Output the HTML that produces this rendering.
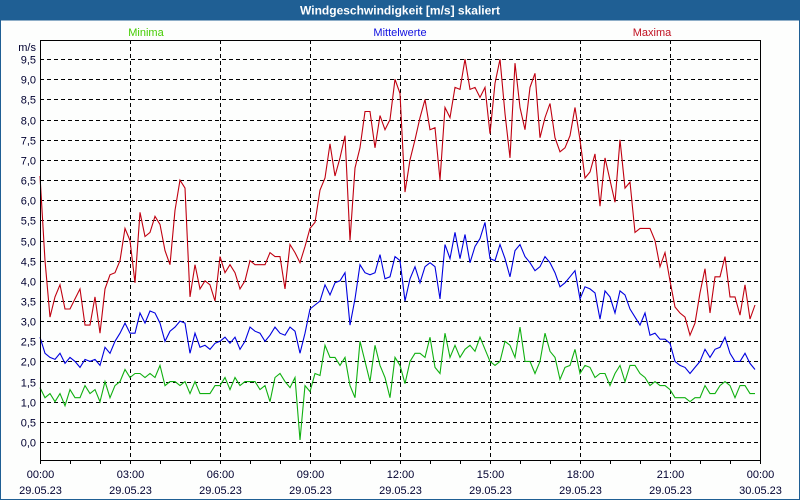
<!DOCTYPE html>
<html><head><meta charset="utf-8"><style>
html,body{margin:0;padding:0;width:800px;height:500px;overflow:hidden;background:#fff;font-family:"Liberation Sans",sans-serif}
svg{display:block}
</style></head><body>
<svg id="chart" width="800" height="500" xmlns="http://www.w3.org/2000/svg">
<rect x="0" y="0" width="800" height="500" fill="#fdfefd"/>
<rect x="0" y="0" width="800" height="20" fill="#1f5f94"/>
<rect x="0.5" y="20" width="799" height="479.5" fill="none" stroke="#1f5f94" stroke-width="1"/>
<text x="400" y="14.5" text-anchor="middle" font-size="12" font-weight="bold" fill="#fff">Windgeschwindigkeit [m/s] skaliert</text>
<text x="146" y="36" text-anchor="middle" font-size="11" fill="#44cc00">Minima</text>
<text x="400" y="36" text-anchor="middle" font-size="11" fill="#1010e0">Mittelwerte</text>
<text x="652" y="36" text-anchor="middle" font-size="11" fill="#c01020">Maxima</text>
<text x="36" y="51" text-anchor="end" font-size="11" fill="#000030">m/s</text>
<g id="grid"></g>
<g id="series"></g>
<rect x="40.5" y="40.5" width="720" height="420" fill="none" stroke="#000" stroke-width="1"/>
</svg>
<script>
const yTicks=[0,0.5,1,1.5,2,2.5,3,3.5,4,4.5,5,5.5,6,6.5,7,7.5,8,8.5,9,9.5];
const xTickHours=[0,3,6,9,12,15,18,21,24];
const xTimeLabels=["00:00","03:00","06:00","09:00","12:00","15:00","18:00","21:00","00:00"];
const xDateLabels=["29.05.23","29.05.23","29.05.23","29.05.23","29.05.23","29.05.23","29.05.23","29.05.23","30.05.23"];
const maxima=[6.6,4.5,3.1,3.6,3.9,3.3,3.3,3.55,3.8,2.9,2.9,3.6,2.7,3.8,4.15,4.2,4.5,5.3,5.0,3.95,5.7,5.1,5.2,5.6,5.4,4.75,4.4,5.75,6.5,6.3,3.6,4.4,3.8,4.0,3.9,3.5,4.6,4.2,4.4,4.2,3.8,4.0,4.5,4.4,4.4,4.4,4.7,4.6,4.6,3.8,
4.9,4.7,4.45,4.85,5.3,5.45,6.25,6.55,7.4,6.6,7.05,7.6,5.0,6.8,7.3,8.2,8.2,7.3,8.1,7.75,8.0,9.0,8.65,6.2,7.0,7.5,8.05,8.5,7.75,7.8,6.5,8.3,8.05,8.8,8.75,9.5,8.75,8.8,8.55,8.8,7.65,8.9,9.5,8.15,7.05,9.4,8.3,7.75,8.8,9.15,
7.55,8.05,8.4,7.55,7.2,7.3,7.6,8.3,7.5,6.55,6.7,7.15,5.85,7.05,6.5,5.95,7.5,6.3,6.45,5.2,5.3,5.3,5.3,5.0,4.35,4.7,4.0,3.35,3.2,3.1,2.65,2.95,3.7,4.3,3.2,4.1,4.1,4.6,3.6,3.6,3.15,3.9,3.05,3.4];
const mittel=[2.6,2.2,2.1,2.05,2.2,1.95,2.1,2.0,1.85,2.05,2.0,2.05,1.9,2.35,2.2,2.5,2.7,2.95,2.7,2.7,3.2,2.95,3.25,3.2,2.95,2.5,2.75,2.85,3.0,2.95,2.2,2.7,2.35,2.4,2.3,2.45,2.5,2.6,2.45,2.6,2.3,2.5,2.85,2.75,2.7,2.5,2.65,2.85,2.7,2.65,
2.85,2.75,2.2,2.7,3.3,3.4,3.5,3.9,3.65,3.95,4.0,4.2,2.9,3.55,4.4,4.2,4.15,4.2,4.65,4.05,4.1,4.6,4.5,3.5,4.05,4.35,3.95,4.35,4.45,4.35,3.55,4.9,4.55,5.2,4.55,5.15,4.45,4.85,5.05,5.45,4.55,4.5,4.9,4.55,4.1,4.75,4.9,4.6,4.45,4.25,
4.35,4.6,4.45,4.2,3.85,3.95,4.1,4.25,3.55,3.85,3.8,3.7,3.05,3.75,3.6,3.2,3.75,3.65,3.3,3.1,2.9,3.2,2.65,2.7,2.55,2.55,2.45,2.0,1.9,1.85,1.7,1.85,2.0,2.3,2.1,2.3,2.35,2.6,2.2,2.0,2.0,2.2,1.95,1.8];
const minima=[1.35,1.1,1.2,1.0,1.2,0.9,1.3,1.1,1.1,1.4,1.2,1.3,1.0,1.5,1.1,1.4,1.5,1.8,1.6,1.7,1.7,1.6,1.7,1.6,1.9,1.4,1.5,1.5,1.4,1.5,1.2,1.5,1.2,1.2,1.2,1.4,1.4,1.6,1.3,1.6,1.4,1.5,1.5,1.5,1.3,1.4,1.0,1.6,1.7,1.5,
1.35,1.6,0.05,1.4,1.25,1.7,1.65,2.4,2.1,2.1,1.9,2.1,1.4,1.1,2.5,2.0,1.5,2.4,1.9,1.6,1.1,2.1,1.9,1.45,2.0,2.2,2.2,2.1,2.6,1.85,1.7,2.7,2.1,2.4,2.1,2.3,2.4,2.25,2.6,2.3,2.0,1.9,2.0,2.5,2.4,2.1,2.85,2.0,2.0,1.7,
2.0,2.7,2.25,2.1,1.55,1.85,1.9,2.3,1.7,1.9,1.85,1.6,1.7,1.7,1.4,1.7,1.9,1.5,1.9,1.9,1.7,1.6,1.4,1.5,1.4,1.4,1.3,1.1,1.1,1.1,1.0,1.1,1.1,1.4,1.2,1.2,1.4,1.5,1.4,1.1,1.4,1.4,1.2,1.2];

const NS="http://www.w3.org/2000/svg";
const X0=40,X1=760,Y0=442,PXV=40.3;
function xH(h){return X0+(X1-X0)*h/24;}
function xI(i){return xH(i/6);}
function yV(v){return Y0-v*PXV;}
function mk(tag,attrs,parent){const e=document.createElementNS(NS,tag);for(const k in attrs)e.setAttribute(k,attrs[k]);parent.appendChild(e);return e;}
const grid=document.getElementById('grid');
yTicks.forEach(v=>{
  const y=Math.round(yV(v))+0.5;
  const l=mk('line',{x1:X0,x2:X1,y1:y,y2:y,stroke:'#000','stroke-width':1,'stroke-dasharray':'4,3'},grid);
  
  
  const t=mk('text',{x:36,y:y+4,'text-anchor':'end','font-size':11,fill:'#000030'},grid);
  t.textContent=v.toFixed(1).replace('.',',');
  
  
});
for(let h=0;h<=24;h++){
  const x=Math.round(xH(h))+0.5;
  const tk=mk('line',{x1:x,x2:x,y1:460,y2:464,stroke:'#000','stroke-width':1},grid);
  
  
}
xTickHours.forEach((h,i)=>{
  const x=Math.round(xH(h))+0.5;
  if(h>0&&h<24){
    const l=mk('line',{x1:x,x2:x,y1:40,y2:460,stroke:'#000','stroke-width':1,'stroke-dasharray':'4,3'},grid);
    
    
  }
  const t1=mk('text',{x:x,y:478,'text-anchor':'middle','font-size':11,fill:'#000030'},grid);
  t1.textContent=xTimeLabels[i];
  
  
  const t2=mk('text',{x:x,y:494,'text-anchor':'middle','font-size':11,fill:'#000030'},grid);
  t2.textContent=xDateLabels[i];
  
  
});
const ser=document.getElementById('series');
[[minima,'#10b010','minima-line'],[mittel,'#0000e0','mittelwerte-line'],[maxima,'#c00010','maxima-line']].forEach(([d,c,n])=>{
  const p=mk('polyline',{points:d.map((v,i)=>xI(i).toFixed(1)+','+yV(v).toFixed(1)).join(' '),fill:'none',stroke:c,'stroke-width':1.1},ser);
  
  
});
</script>
</body></html>
